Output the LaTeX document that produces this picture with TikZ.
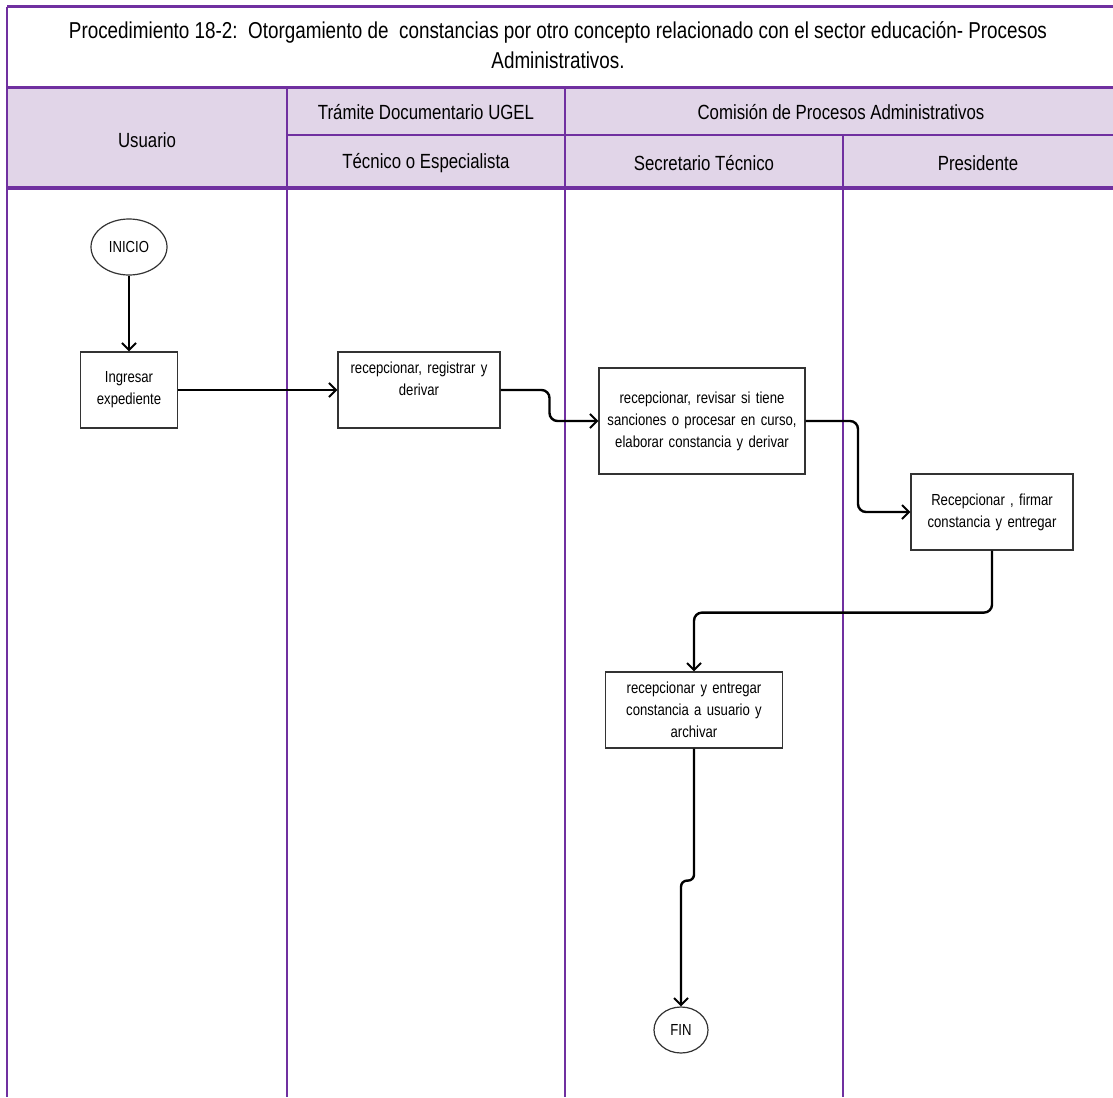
\documentclass[tikz,border=0pt]{standalone}
\usepackage{fontspec}
\setmainfont{Liberation Sans}[FakeStretch=0.82]
\usetikzlibrary{shapes.geometric,arrows.meta,calc}
\definecolor{lane}{RGB}{112,48,160}
\definecolor{hdr}{RGB}{225,213,232}
\tikzset{act/.style={draw=black!80,line width=1.2pt,fill=white,align=center,inner sep=3pt,font=\fontsize{16}{22}\selectfont},
 term/.style={draw=black!80,line width=1.2pt,ellipse,inner sep=0pt,font=\fontsize{16}{18}\selectfont},
 flow/.style={line width=2.4pt,rounded corners=8pt,-{Straight Barb[length=7pt,width=14pt,line width=2pt]}},
 lanel/.style={draw=lane,line width=2pt},
 hd/.style={font=\fontsize{20.5}{24}\selectfont}}

\begin{document}
\begin{tikzpicture}[x=1pt,y=-1pt]
\useasboundingbox(0,0) rectangle (1113,1097);
\fill[hdr](7,88) rectangle (1113,188);
\draw[lanel,line width=3pt](7,7)--(1113,7)(7,88)--(1113,88);
\draw[lanel](287,135)--(1113,135);
\draw[lanel](7,7)--(7,1097)(287,88)--(287,1097)(565,88)--(565,1097)(843,135)--(843,1097);
\draw[lanel,line width=4pt](7,188)--(1113,188);
\node[align=center,font=\fontsize{23}{30}\selectfont](ttl) at(558,45){Procedimiento 18-2:\ \ Otorgamiento de\ \ constancias por otro concepto relacionado con el sector educación- Procesos\\Administrativos.};
\node[hd](us) at(147,140){Usuario};
\node[hd](tr) at(426,112){Trámite Documentario UGEL};
\node[hd](cm) at(841,112){Comisión de Procesos Administrativos};
\node[hd](te) at(426,163){Técnico o Especialista};
\node[hd](se) at(704,163){Secretario Técnico};
\node[hd](pr) at(978,163){Presidente};
\node[term,minimum width=76pt,minimum height=56pt](ini) at(129,247){INICIO};
\node[act,minimum width=97pt,minimum height=76pt,text width=90pt](ing) at(129,390){Ingresar\\expediente};
\node[act,minimum width=162pt,minimum height=76pt,text width=154pt](reg) at(419,390){recepcionar, registrar y\\derivar\\\mbox{}};
\node[act,minimum width=206pt,minimum height=106pt,text width=198pt](rev) at(702,421){recepcionar, revisar si tiene\\sanciones o procesar en curso,\\elaborar constancia y derivar};
\node[act,minimum width=162pt,minimum height=76pt,text width=154pt](fir) at(992,512){Recepcionar , firmar\\constancia y entregar};
\node[act,minimum width=177pt,minimum height=76pt,text width=170pt](arc) at(694,710){recepcionar y entregar\\constancia a usuario y\\archivar};
\node[term,minimum width=54pt,minimum height=46pt](fin) at(681,1030){FIN};
\draw[flow](ini)--(ing);
\draw[flow](ing)--(reg);
\draw[flow](reg.east)-|($(reg.east)!0.5!(rev.west)$)|-(rev.west);
\draw[flow](rev.east)-|($(rev.east)!0.5!(fir.west)$)|-(fir.west);
\draw[flow](fir.south)--++(0,62)-|(arc.north);
\draw[flow,rounded corners=6pt](arc.south)--++(0,132)-|(fin.north);
\end{tikzpicture}
\end{document}
